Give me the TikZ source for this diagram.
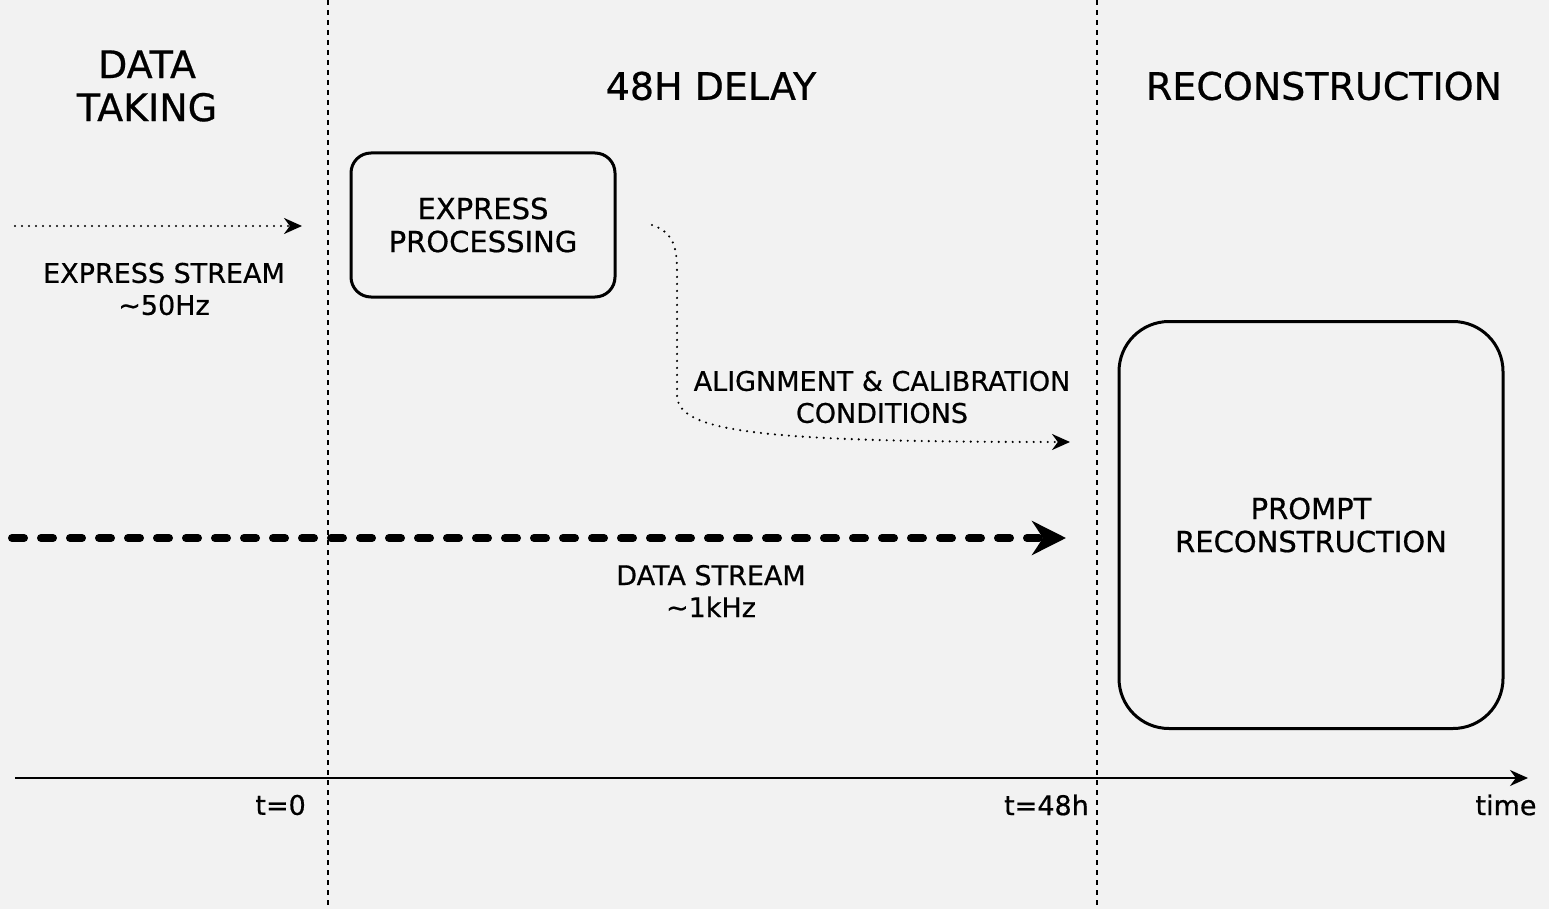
\documentclass[tikz,border=0pt]{standalone}
\usepackage{fontspec}
\setmainfont{DejaVu Sans}[FakeBold=0.6]
\usetikzlibrary{arrows.meta}
\definecolor{bgcol}{HTML}{F2F2F2}
\tikzstyle{head} = [font=\fontsize{38}{43}\selectfont, align=center, inner sep=0pt]
\tikzstyle{note} = [font=\fontsize{27}{32}\selectfont, align=center, inner sep=0pt]
\tikzstyle{block} = [rectangle, draw, line width=3pt, rounded corners=20pt,
    font=\fontsize{29}{33}\selectfont, align=center]
\tikzstyle{tline} = [draw, line width=2pt, dash pattern=on 5pt off 5pt]
\tikzstyle{dotline} = [draw, line width=2.4pt, line cap=round, dash pattern=on 0pt off 7pt,
    -{Stealth[length=18pt,width=16pt]}]
\tikzstyle{dataline} = [draw, line width=8pt, line cap=round, dash pattern=on 12pt off 17pt,
    -{Stealth[length=34pt,width=34pt]}]
\tikzstyle{axis} = [draw, line width=2pt, -{Stealth[length=18pt,width=16pt]}]

\begin{document}
\begin{tikzpicture}[x=1pt, y=-1pt]
			% Background
			\fill[bgcol] (0,0) rectangle (1549,909);
			\useasboundingbox (0,0) rectangle (1549,909);
			% Place nodes
			\node [head] (dt) at (147,86) {DATA\\TAKING};
			\node [head] (dl) at (711,86) {48H DELAY};
			\node [head] (rc) at (1324,86) {RECONSTRUCTION};
			\node [block, minimum width=264pt, minimum height=144pt] (ep) at (483,225) {EXPRESS\\PROCESSING};
			\node [block, rounded corners=50pt, minimum width=384pt, minimum height=407pt] (pr) at (1311,525) {PROMPT\\RECONSTRUCTION};
			\node [note] (es) at (164,289) {EXPRESS STREAM\\\textasciitilde50Hz};
			\node [note] (ac) at (882,397) {ALIGNMENT \& CALIBRATION\\CONDITIONS};
			\node [note] (ds) at (711,591) {DATA STREAM\\\textasciitilde1kHz};
			\node [note, anchor=east] (t0) at (306,805) {t=0};
			\node [note, anchor=east] (t48) at (1089,805) {t=48h};
			\node [note] (time) at (1506,805) {time};
			% Coordinates
			\coordinate (t0top) at (328,0);
			\coordinate (t0bot) at (328,909);
			\coordinate (t48top) at (1097,0);
			\coordinate (t48bot) at (1097,909);
			\coordinate (esin) at (15,226);
			\coordinate (esout) at (302,226);
			\coordinate (acin) at (652,225);
			\coordinate (acout) at (1070,442);
			\coordinate (dsin) at (12,538);
			\coordinate (dsout) at (1066,538);
			\coordinate (axin) at (15,778);
			\coordinate (axout) at (1528,778);
			% Draw edges
			\path [tline] (t0top) -- (t0bot);
			\path [tline] (t48top) -- (t48bot);
			\path [axis] (axin) -- (axout);
			\path [dotline] (esin) -- (esout);
			\path [dotline] (acin) .. controls (672,232) and (677,245) .. (677,270)
			    -- (677,395) .. controls (677,432) and (760,442) .. (acout);
			\path [dataline] (dsin) -- (dsout);
	\end{tikzpicture}
\end{document}
